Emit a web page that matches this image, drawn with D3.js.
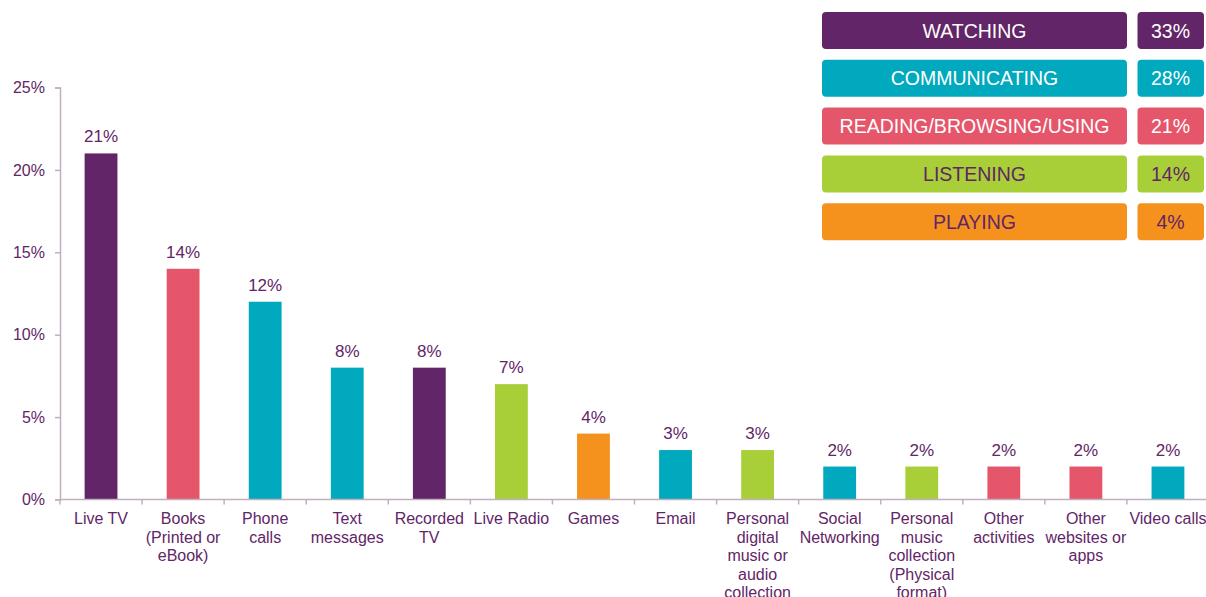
<!DOCTYPE html>
<html>
<head>
<meta charset="utf-8">
<script src="https://cdn.jsdelivr.net/npm/d3@7"></script>
<style>
  body { margin: 0; background: #fff; }
  svg { display: block; font-family: "Liberation Sans", Arial, sans-serif; }
</style>
</head>
<body>
<div id="chart"></div>
<script>
// categories, their activity group and share of time (%)
const categories = [
  "Live TV", "Books (Printed or eBook)", "Phone calls", "Text messages", "Recorded TV",
  "Live Radio", "Games", "Email", "Personal digital music or audio collection",
  "Social Networking", "Personal music collection (Physical format)", "Other activities",
  "Other websites or apps", "Video calls"
];
const labelLines = [
  ["Live TV"], ["Books", "(Printed or", "eBook)"], ["Phone", "calls"], ["Text", "messages"],
  ["Recorded", "TV"], ["Live Radio"], ["Games"], ["Email"],
  ["Personal", "digital", "music or", "audio", "collection"], ["Social", "Networking"],
  ["Personal", "music", "collection", "(Physical", "format)"], ["Other", "activities"],
  ["Other", "websites or", "apps"], ["Video calls"]
];
const values = [21, 14, 12, 8, 8, 7, 4, 3, 3, 2, 2, 2, 2, 2];
const groups = ["WATCHING", "READING", "COMMUNICATING", "COMMUNICATING", "WATCHING",
  "LISTENING", "PLAYING", "COMMUNICATING", "LISTENING", "COMMUNICATING", "LISTENING",
  "READING", "READING", "COMMUNICATING"];

const legendNames = ["WATCHING", "COMMUNICATING", "READING/BROWSING/USING", "LISTENING", "PLAYING"];
const legendKeys = ["WATCHING", "COMMUNICATING", "READING", "LISTENING", "PLAYING"];
const legendValues = [33, 28, 21, 14, 4];
const yTicks = [0, 5, 10, 15, 20, 25];

const colorOf = {
  WATCHING: "#622567", COMMUNICATING: "#00a9bd", READING: "#e5566a",
  LISTENING: "#a8cf38", PLAYING: "#f5921e"
};
const legendTextColor = {
  WATCHING: "#fff", COMMUNICATING: "#fff", READING: "#fff",
  LISTENING: "#622567", PLAYING: "#622567"
};
const textColor = "#622567";
const axisColor = "#bfb0c0";

const width = 1206, height = 597;
const svg = d3.select("#chart").append("svg")
  .attr("width", width).attr("height", height);

const x = d3.scaleBand().domain(categories).range([60, 1209]).paddingInner(0.6).paddingOuter(0.3);
const y = d3.scaleLinear().domain([0, 25]).range([499.5, 87.5]);
const step = x.step();
const x0 = 60;

// y axis
const yAxis = svg.append("g").attr("transform", "translate(60,0)")
  .call(d3.axisLeft(y).tickValues(yTicks).tickFormat(d => d + "%").tickSize(5).tickPadding(10));
yAxis.select(".domain").attr("stroke", axisColor).attr("stroke-width", 1.5);
yAxis.selectAll(".tick line").attr("stroke", axisColor).attr("stroke-width", 1.5);
yAxis.selectAll(".tick text").attr("fill", textColor).attr("font-size", 16)
  .attr("font-family", "Liberation Sans, Arial, sans-serif");

// bars
svg.append("g").selectAll("rect").data(categories).join("rect")
  .attr("x", d => x(d))
  .attr("y", (d, i) => y(values[i]))
  .attr("width", x.bandwidth())
  .attr("height", (d, i) => y(0) - y(values[i]))
  .attr("fill", (d, i) => colorOf[groups[i]]);

// value labels
svg.append("g").selectAll("text").data(categories).join("text")
  .attr("x", d => x(d) + x.bandwidth() / 2)
  .attr("y", (d, i) => y(values[i]) - 11)
  .attr("text-anchor", "middle")
  .attr("fill", textColor)
  .attr("font-size", 17)
  .text((d, i) => values[i] + "%");

// x axis line and ticks at category boundaries
const xa = svg.append("g");
xa.append("line").attr("x1", 60).attr("x2", 1209).attr("y1", y(0)).attr("y2", y(0))
  .attr("stroke", axisColor).attr("stroke-width", 1.5);
xa.selectAll("line.tk").data(d3.range(categories.length + 1)).join("line")
  .attr("class", "tk")
  .attr("x1", i => x0 + i * step).attr("x2", i => x0 + i * step)
  .attr("y1", y(0)).attr("y2", y(0) + 5)
  .attr("stroke", axisColor).attr("stroke-width", 1.5);

// category labels
const lab = svg.append("g").selectAll("text").data(categories).join("text")
  .attr("x", d => x(d) + x.bandwidth() / 2)
  .attr("y", 524)
  .attr("text-anchor", "middle")
  .attr("fill", textColor)
  .attr("font-size", 16);
lab.each(function(d, i) {
  const t = d3.select(this);
  labelLines[i].forEach((ln, j) => {
    t.append("tspan").attr("x", x(d) + x.bandwidth() / 2).attr("y", 524 + j * 18.6).text(ln);
  });
});

// legend
const lg = svg.append("g");
legendKeys.forEach((k, i) => {
  const top = 12 + i * 47.8;
  lg.append("rect").attr("x", 822).attr("y", top).attr("width", 305).attr("height", 37)
    .attr("rx", 4).attr("fill", colorOf[k]);
  lg.append("rect").attr("x", 1137.5).attr("y", top).attr("width", 66.5).attr("height", 37)
    .attr("rx", 4).attr("fill", colorOf[k]);
  lg.append("text").attr("x", 974.5).attr("y", top + 25.5).attr("text-anchor", "middle")
    .attr("fill", legendTextColor[k]).attr("font-size", 19.5).text(legendNames[i]);
  lg.append("text").attr("x", 1170.5).attr("y", top + 25.5).attr("text-anchor", "middle")
    .attr("fill", legendTextColor[k]).attr("font-size", 19.5).text(legendValues[i] + "%");
});
</script>
</body>
</html>
